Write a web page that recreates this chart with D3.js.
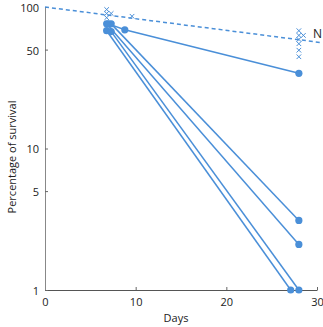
<!DOCTYPE html>
<html>
<head>
<meta charset="utf-8">
<script src="https://cdn.jsdelivr.net/npm/d3@7"></script>
<style>
  body { margin: 0; background: #fff; }
  text { font-family: "Open Sans", "Noto Sans", sans-serif; }
</style>
</head>
<body>
<div id="chart"></div>
<script>
var svgWidth = 323;
var svgHeight = 327;

var xTicks = [0, 10, 20, 30];
var yTicks = [1, 5, 10, 50, 100];

// survival curves (day, percent)
var seriesA = [[7.0, 76], [8.8, 69], [28, 34]];
var seriesB = [[7.3, 76], [28, 3.1]];
var seriesC = [[6.8, 76], [28, 2.1]];
var seriesD = [[6.8, 68], [27.1, 1]];
var seriesE = [[7.3, 67], [28, 1]];

// individual N values
var nDays = [6.8, 6.8, 7.3, 6.8, 9.6, 28, 28, 28.5, 28, 28, 28, 28];
var nValues = [96, 90, 90, 84, 86, 68, 63, 63, 59, 55, 49.5, 44.5];

// fitted trend for N
var nFit = [[0, 100], [30.5, 56]];

var blue = "#4a8fd8";

var svg = d3.select("#chart")
    .append("svg")
    .attr("width", svgWidth)
    .attr("height", svgHeight);

var x = d3.scaleLinear().domain([0, 30]).range([45, 317]);
var y = d3.scaleLog().domain([1, 100]).range([290, 7]);

var xAxis = svg.append("g")
    .attr("transform", "translate(0,290)")
    .call(d3.axisBottom(x).tickValues(xTicks).tickSizeInner(-3).tickSizeOuter(0).tickPadding(8));

var yAxis = svg.append("g")
    .attr("transform", "translate(45,0)")
    .call(d3.axisLeft(y).tickValues(yTicks).tickFormat(d3.format("d")).tickSizeInner(-3).tickSizeOuter(0).tickPadding(6));

xAxis.select(".domain").attr("stroke", "#555");
yAxis.select(".domain").attr("stroke", "#888");
svg.selectAll(".tick line").attr("stroke", "#666");
svg.selectAll(".tick text")
    .attr("font-size", "11px")
    .attr("fill", "#222");
yAxis.selectAll(".tick text").attr("dy", "0.4em");

var line = d3.line()
    .x(d => x(d[0]))
    .y(d => y(d[1]));

svg.append("path")
    .datum(nFit)
    .attr("d", line)
    .attr("fill", "none")
    .attr("stroke", blue)
    .attr("stroke-width", 1.5)
    .attr("stroke-dasharray", "4,3");

var allSeries = [seriesA, seriesB, seriesC, seriesD, seriesE];

svg.selectAll(".curve")
    .data(allSeries)
    .enter()
    .append("path")
    .attr("class", "curve")
    .attr("d", line)
    .attr("fill", "none")
    .attr("stroke", blue)
    .attr("stroke-width", 1.5);

var points = [];
allSeries.forEach(function (s) {
    s.forEach(function (p) { points.push(p); });
});

svg.selectAll(".dot")
    .data(points)
    .enter()
    .append("circle")
    .attr("class", "dot")
    .attr("cx", d => x(d[0]))
    .attr("cy", d => y(d[1]))
    .attr("r", 3.6)
    .attr("fill", blue);

var crosses = nDays.map((d, i) => [d, nValues[i]]);

svg.selectAll(".cross")
    .data(crosses)
    .enter()
    .append("path")
    .attr("class", "cross")
    .attr("transform", d => `translate(${x(d[0])},${y(d[1])})`)
    .attr("d", "M-2.3,-2.3L2.3,2.3M-2.3,2.3L2.3,-2.3")
    .attr("stroke", blue)
    .attr("stroke-width", 1);

svg.append("text")
    .attr("x", 313)
    .attr("y", 38)
    .attr("font-size", "12px")
    .attr("fill", "#222")
    .text("N");

svg.append("text")
    .attr("x", 176)
    .attr("y", 322)
    .attr("text-anchor", "middle")
    .attr("font-size", "11px")
    .attr("fill", "#222")
    .text("Days");

svg.append("text")
    .attr("transform", "translate(16,157) rotate(-90)")
    .attr("text-anchor", "middle")
    .attr("font-size", "11px")
    .attr("fill", "#222")
    .text("Percentage of survival");
</script>
</body>
</html>
